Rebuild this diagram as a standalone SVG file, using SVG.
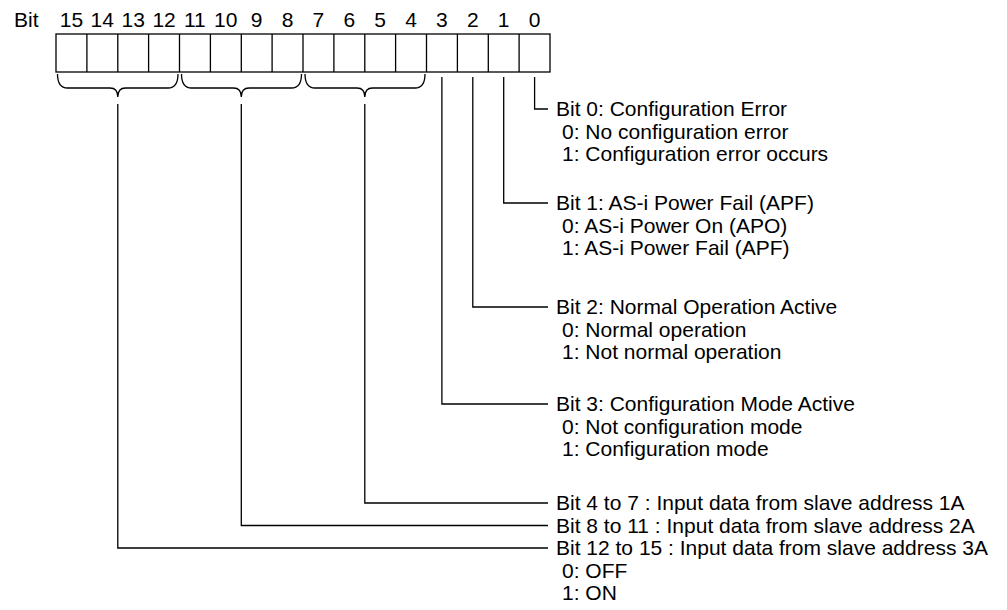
<svg xmlns="http://www.w3.org/2000/svg" width="1007" height="610" viewBox="0 0 1007 610">
  <style>
    text { font-family: "Liberation Sans", Arial, sans-serif; font-size: 21px; fill: #000; }
    .num { text-anchor: middle; }
    .ln { fill: none; stroke: #000; stroke-width: 1.3; }
  </style>
  <rect width="1007" height="610" fill="#fff"/>

  <!-- 16-bit register with bit numbers -->
  <g id="register">
    <text x="14" y="27">Bit</text>
    <text class="num" x="71.4" y="27">15</text>
    <text class="num" x="102.3" y="27">14</text>
    <text class="num" x="133.2" y="27">13</text>
    <text class="num" x="164.1" y="27">12</text>
    <text class="num" x="194.9" y="27">11</text>
    <text class="num" x="225.8" y="27">10</text>
    <text class="num" x="256.7" y="27">9</text>
    <text class="num" x="287.6" y="27">8</text>
    <text class="num" x="318.4" y="27">7</text>
    <text class="num" x="349.3" y="27">6</text>
    <text class="num" x="380.2" y="27">5</text>
    <text class="num" x="411.1" y="27">4</text>
    <text class="num" x="441.9" y="27">3</text>
    <text class="num" x="472.8" y="27">2</text>
    <text class="num" x="503.7" y="27">1</text>
    <text class="num" x="534.6" y="27">0</text>
    <rect class="ln" x="56" y="34" width="494" height="38"/>
    <path class="ln" d="M86.9,34V72 M117.8,34V72 M148.6,34V72 M179.5,34V72 M210.4,34V72 M241.3,34V72 M272.1,34V72 M303,34V72 M333.9,34V72 M364.8,34V72 M395.6,34V72 M426.5,34V72 M457.4,34V72 M488.3,34V72 M519.1,34V72"/>
  </g>

  <!-- Braces grouping bits 12-15, 8-11, 4-7 -->
  <g id="braces">
    <path class="ln" d="M57.5,74 Q57.5,88 67.5,88 H110 Q117.8,88 117.8,97 Q117.8,88 125.5,88 H168 Q178,88 178,74"/>
    <path class="ln" d="M181.5,74 Q181.5,88 191.5,88 H233.5 Q241.3,88 241.3,97 Q241.3,88 249,88 H291.5 Q301.5,88 301.5,74"/>
    <path class="ln" d="M305,74 Q305,88 315,88 H357 Q364.8,88 364.8,97 Q364.8,88 372.5,88 H415 Q425,88 425,74"/>
  </g>

  <!-- Leader lines to the descriptions -->
  <g id="connectors">
    <path class="ln" d="M534.6,77V109H548"/>
    <path class="ln" d="M503.7,77V203H548"/>
    <path class="ln" d="M472.8,77V307H548"/>
    <path class="ln" d="M441.9,77V404H548"/>
    <path class="ln" d="M364.8,104V503H548"/>
    <path class="ln" d="M241.3,104V525.5H548"/>
    <path class="ln" d="M117.8,104V548H548"/>
  </g>

  <g id="bit0">
    <text x="556" y="116">Bit 0: Configuration Error</text>
    <text x="562" y="138.5">0: No configuration error</text>
    <text x="562" y="161">1: Configuration error occurs</text>
  </g>
  <g id="bit1">
    <text x="556" y="210">Bit 1: AS-i Power Fail (APF)</text>
    <text x="562" y="232.5">0: AS-i Power On (APO)</text>
    <text x="562" y="255">1: AS-i Power Fail (APF)</text>
  </g>
  <g id="bit2">
    <text x="556" y="314">Bit 2: Normal Operation Active</text>
    <text x="562" y="336.5">0: Normal operation</text>
    <text x="562" y="359">1: Not normal operation</text>
  </g>
  <g id="bit3">
    <text x="556" y="411">Bit 3: Configuration Mode Active</text>
    <text x="562" y="433.5">0: Not configuration mode</text>
    <text x="562" y="456">1: Configuration mode</text>
  </g>
  <g id="bits4to7">
    <text x="556" y="510">Bit 4 to 7 : Input data from slave address 1A</text>
  </g>
  <g id="bits8to11">
    <text x="556" y="532.5">Bit 8 to 11 : Input data from slave address 2A</text>
  </g>
  <g id="bits12to15">
    <text x="556" y="555">Bit 12 to 15 : Input data from slave address 3A</text>
    <text x="562" y="577.5">0: OFF</text>
    <text x="562" y="600">1: ON</text>
  </g>
</svg>
